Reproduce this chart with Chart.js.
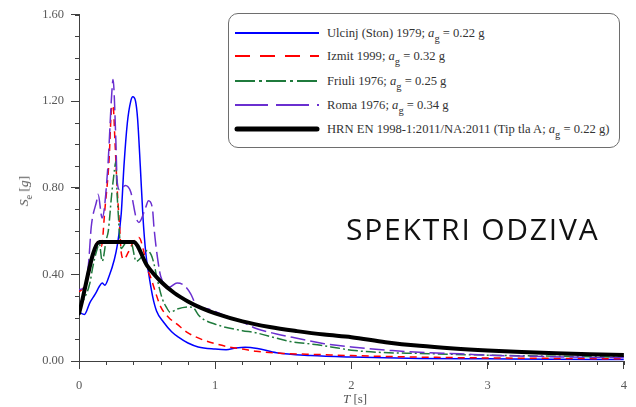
<!DOCTYPE html>
<html><head><meta charset="utf-8">
<script src="https://cdn.jsdelivr.net/npm/chart.js@4"></script>
<style>
body{margin:0;background:#fff;}
#wrap{position:relative;width:636px;height:407px;overflow:hidden;background:#fff}
canvas{position:absolute;left:0;top:0}
.leg{position:absolute;left:228px;top:13px;width:392px;height:135px;border:1.3px solid #6e6e6e;border-radius:10px;box-sizing:border-box;background:#fff}
.row{position:absolute;left:5px;height:18px;display:flex;align-items:center;white-space:nowrap;font-family:'Liberation Serif',serif;font-size:12.6px;color:#333}
.row svg{margin-right:7px;flex:none}
sub{font-size:10.5px;vertical-align:-5px;line-height:0}
.big{position:absolute;left:346px;top:215px;font-family:'Open Sans',sans-serif;font-size:30px;letter-spacing:1.8px;line-height:28px;color:#111;white-space:nowrap}
.ytitle{position:absolute;left:24px;top:191px;transform:translate(-50%,-50%) rotate(-90deg);font-family:'Liberation Serif',serif;font-size:13.5px;color:#555;white-space:nowrap}
.ytitle sub{font-size:10px;vertical-align:-4px}
.xtitle{position:absolute;left:355px;top:399px;transform:translate(-50%,-50%);font-family:'Liberation Serif',serif;font-size:13px;color:#555;white-space:nowrap}
</style></head>
<body>
<div id="wrap">
<canvas id="c" width="636" height="407"></canvas>
<div class="leg">
 <div class="row" style="top:10px"><svg width="86" height="10"><line x1="1" y1="5" x2="85" y2="5" stroke="#0000ff" stroke-width="2"/></svg><span>Ulcinj (Ston) 1979; <i>a</i><sub>g</sub> = 0.22 g</span></div>
 <div class="row" style="top:33px"><svg width="86" height="10"><line x1="1" y1="5" x2="85" y2="5" stroke="#ff0000" stroke-width="2" stroke-dasharray="15 10"/></svg><span>Izmit 1999; <i>a</i><sub>g</sub> = 0.32 g</span></div>
 <div class="row" style="top:58px"><svg width="86" height="10"><line x1="1" y1="5" x2="85" y2="5" stroke="#1f7a3c" stroke-width="2" stroke-dasharray="20 4 3 4"/></svg><span>Friuli 1976; <i>a</i><sub>g</sub> = 0.25 g</span></div>
 <div class="row" style="top:82px"><svg width="86" height="10"><line x1="1" y1="5" x2="85" y2="5" stroke="#6a2fd0" stroke-width="2" stroke-dasharray="33 8"/></svg><span>Roma 1976; <i>a</i><sub>g</sub> = 0.34 g</span></div>
 <div class="row" style="top:106px"><svg width="86" height="10"><line x1="3" y1="5" x2="83" y2="5" stroke="#000" stroke-width="5" stroke-linecap="round"/></svg><span>HRN EN 1998-1:2011/NA:2011 (Tip tla A; <i>a</i><sub>g</sub> = 0.22 g)</span></div>
</div>
<div class="big">SPEKTRI ODZIVA</div>
<div class="ytitle"><i>S</i><sub>e</sub> [<i>g</i>]</div>
<div class="xtitle"><i>T</i> [s]</div>
</div>
<script>
// ---- data ----
const xTickLabels = ['0', '1', '2', '3', '4'];
const yTickLabels = ['0.00', '0.40', '0.80', '1.20', '1.60'];

const T_ulcinj = [0,0.04,0.08,0.12,0.15,0.17,0.19,0.22,0.26,0.28,0.31,0.33,0.355,0.38,0.395,0.415,0.43,0.45,0.47,0.49,0.51,0.54,0.57,0.62,0.68,0.73,0.8,0.875,1.0,1.08,1.15,1.22,1.31,1.45,1.7,2.0,2.5,3.0,3.5,4.0];
const S_ulcinj = [0.225,0.215,0.27,0.31,0.345,0.36,0.35,0.39,0.47,0.53,0.68,0.9,1.1,1.2,1.22,1.2,1.12,0.9,0.66,0.5,0.41,0.3,0.23,0.18,0.135,0.11,0.083,0.065,0.055,0.052,0.06,0.064,0.058,0.038,0.025,0.018,0.012,0.01,0.008,0.007];

const T_izmit = [0,0.03,0.065,0.1,0.135,0.165,0.19,0.22,0.24,0.25,0.265,0.28,0.3,0.31,0.33,0.36,0.4,0.44,0.47,0.5,0.53,0.56,0.6,0.66,0.72,0.8,0.9,1.0,1.1,1.2,1.3,1.5,1.75,2.0,2.5,3.0,3.5,4.0];
const S_izmit = [0.32,0.335,0.39,0.48,0.55,0.53,0.7,0.92,1.17,1.18,1.0,0.8,0.6,0.5,0.47,0.5,0.55,0.57,0.52,0.43,0.38,0.32,0.25,0.2,0.17,0.13,0.1,0.08,0.065,0.055,0.045,0.035,0.03,0.025,0.018,0.014,0.012,0.01];

const T_friuli = [0,0.04,0.08,0.1,0.13,0.15,0.17,0.2,0.215,0.24,0.26,0.27,0.28,0.29,0.3,0.31,0.35,0.38,0.42,0.46,0.5,0.53,0.55,0.57,0.61,0.64,0.67,0.72,0.8,0.84,0.88,0.92,1.0,1.05,1.2,1.3,1.45,1.55,1.75,1.9,2.0,2.2,2.5,3.0,3.5,4.0];
const S_friuli = [0.25,0.29,0.36,0.43,0.51,0.54,0.46,0.56,0.6,0.77,0.88,0.92,0.77,0.66,0.56,0.52,0.55,0.55,0.46,0.48,0.51,0.49,0.45,0.39,0.29,0.25,0.225,0.24,0.25,0.245,0.21,0.19,0.17,0.16,0.14,0.13,0.105,0.09,0.075,0.06,0.05,0.04,0.035,0.027,0.022,0.018];

const T_roma = [0,0.04,0.07,0.09,0.13,0.14,0.17,0.21,0.24,0.25,0.27,0.28,0.3,0.34,0.38,0.42,0.44,0.49,0.51,0.54,0.55,0.58,0.6,0.63,0.66,0.72,0.77,0.82,0.86,0.95,1.05,1.2,1.3,1.45,1.6,1.8,2.0,2.3,2.5,2.8,3.0,3.3,3.6,4.0];
const S_roma = [0.33,0.34,0.45,0.62,0.74,0.77,0.66,0.88,1.23,1.3,1.03,0.83,0.79,0.81,0.78,0.66,0.64,0.71,0.74,0.7,0.62,0.46,0.39,0.35,0.34,0.36,0.35,0.31,0.26,0.24,0.215,0.18,0.15,0.125,0.105,0.08,0.065,0.048,0.04,0.033,0.027,0.022,0.018,0.015];

const T_hrn = [0,0.15,0.4,0.5,0.6,0.7,0.8,0.9,1.0,1.2,1.4,1.6,1.8,2.0,2.25,2.5,2.75,3.0,3.25,3.5,3.75,4.0];
const S_hrn = [0.22,0.55,0.55,0.44,0.367,0.314,0.275,0.244,0.22,0.183,0.157,0.138,0.122,0.11,0.087,0.07,0.058,0.049,0.042,0.036,0.031,0.028];

const xMinorStep = 0.2;
const yMinorStep = 0.1;

// ---- build chart ----
const pts = (T, S) => T.map((t, i) => ({x: t, y: S[i]}));

const minorTicks = {
  id: 'minorTicks',
  afterDraw(chart) {
    const ctx = chart.ctx, xs = chart.scales.x, ys = chart.scales.y;
    ctx.save();
    ctx.strokeStyle = '#404040';
    ctx.lineWidth = 1;
    ctx.beginPath();
    for (let i = 0; i <= Math.round((xs.max - xs.min) / xMinorStep); i++) {
      const px = Math.round(xs.getPixelForValue(xs.min + i * xMinorStep)) + 0.5;
      ctx.moveTo(px, ys.bottom); ctx.lineTo(px, ys.bottom + 4);
    }
    for (let i = 0; i <= Math.round((ys.max - ys.min) / yMinorStep); i++) {
      const py = Math.round(ys.getPixelForValue(ys.min + i * yMinorStep)) + 0.5;
      ctx.moveTo(xs.left, py); ctx.lineTo(xs.left - 4, py);
    }
    ctx.stroke();
    ctx.restore();
  }
};

const tickFont = {family: "'Liberation Serif', serif", size: 12.5};

new Chart(document.getElementById('c'), {
  type: 'line',
  data: {
    datasets: [
      {label: 'HRN', data: pts(T_hrn, S_hrn), borderColor: '#000', borderWidth: 4, order: 0, cubicInterpolationMode: 'monotone', borderCapStyle: 'round', borderJoinStyle: 'round'},
      {label: 'Ulcinj', data: pts(T_ulcinj, S_ulcinj), borderColor: '#0000ff', borderWidth: 1.5, order: 4, cubicInterpolationMode: 'monotone'},
      {label: 'Izmit', data: pts(T_izmit, S_izmit), borderColor: '#ff0000', borderWidth: 1.5, borderDash: [7, 5], order: 3, cubicInterpolationMode: 'monotone'},
      {label: 'Friuli', data: pts(T_friuli, S_friuli), borderColor: '#1f7a3c', borderWidth: 1.5, borderDash: [10, 3, 2, 3], order: 2, cubicInterpolationMode: 'monotone'},
      {label: 'Roma', data: pts(T_roma, S_roma), borderColor: '#6a2fd0', borderWidth: 1.5, borderDash: [15, 5], order: 1, cubicInterpolationMode: 'monotone'}
    ]
  },
  options: {
    responsive: false,
    animation: false,
    devicePixelRatio: 1,
    layout: {padding: {top: 13, right: 4, left: 0, bottom: 0}},
    elements: {point: {radius: 0}, line: {fill: false}},
    plugins: {legend: {display: false}, tooltip: {enabled: false}},
    scales: {
      x: {
        type: 'linear', min: 0, max: 4,
        afterFit: s => { s.height = 46; },
        ticks: {stepSize: 1, color: '#595959', font: tickFont, padding: 9, maxRotation: 0,
          callback: (v) => xTickLabels[Math.round(v)]},
        grid: {drawOnChartArea: false, drawTicks: true, tickLength: 8, color: '#404040'},
        border: {display: true, color: '#404040', width: 1}
      },
      y: {
        type: 'linear', min: 0, max: 1.6,
        afterFit: s => { s.width = 79; },
        ticks: {stepSize: 0.4, color: '#595959', font: tickFont, padding: 7,
          callback: (v) => yTickLabels[Math.round(v / 0.4)]},
        grid: {drawOnChartArea: false, drawTicks: true, tickLength: 8, color: '#404040'},
        border: {display: true, color: '#404040', width: 1}
      }
    }
  },
  plugins: [minorTicks]
});
</script>
</body></html>
